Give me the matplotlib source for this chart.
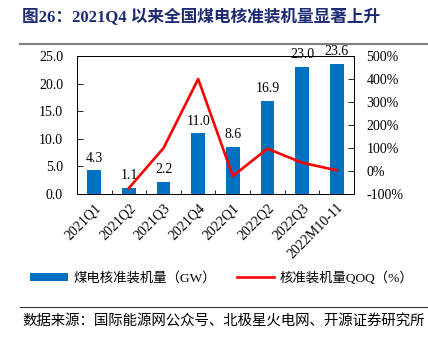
import matplotlib
matplotlib.use("Agg")
import matplotlib.pyplot as plt
from matplotlib.patches import Patch
from matplotlib.lines import Line2D
from matplotlib.ticker import FuncFormatter, FixedLocator

plt.rcParams['font.family'] = ['Liberation Serif', 'Noto Sans CJK SC', 'DejaVu Sans']

# Data
categories = ["2021Q1", "2021Q2", "2021Q3", "2021Q4", "2022Q1", "2022Q2", "2022Q3", "2022M10-11"]
capacity_gw = [4.3, 1.1, 2.2, 11.0, 8.6, 16.9, 23.0, 23.6]
qoq_pct = [None, -74, 100, 400, -22, 97, 36, 3]

title_text = "图26：2021Q4 以来全国煤电核准装机量显著上升"
legend_bar = "煤电核准装机量（GW）"
legend_line = "核准装机量QOQ（%）"
source_text = "数据来源：国际能源网公众号、北极星火电网、开源证券研究所"

W, H = 428, 337
fig = plt.figure(figsize=(W / 100, H / 100), dpi=100)

def box(x0, y0, x1, y1):
    return [x0 / W, 1 - y1 / H, (x1 - x0) / W, (y1 - y0) / H]

ax = fig.add_axes(box(77, 56, 354, 194))
ax2 = ax.twinx()

blue = "#0070C0"
x = list(range(len(categories)))
bars = ax.bar(x, capacity_gw, width=0.4, color=blue, zorder=2)
for xi, v in zip(x, capacity_gw):
    ax.annotate(f"{v:.1f}", (xi, v), xytext=(0, 4), textcoords="offset points",
                ha="center", va="bottom", fontsize=10, clip_on=False)

lx = [xi for xi, v in zip(x, qoq_pct) if v is not None]
ly = [v for v in qoq_pct if v is not None]
ax2.plot(lx, ly, color="#FF0000", lw=1.9, zorder=3)

ax.set_xlim(-0.5, len(categories) - 0.5)
ax.set_ylim(0, 25)
ax2.set_ylim(-100, 500)
ax.set_yticks([0, 5, 10, 15, 20, 25])
ax.yaxis.set_major_formatter(FuncFormatter(lambda v, p: f"{v:.1f}"))
ax2.set_yticks(list(range(-100, 501, 100)))
ax2.yaxis.set_major_formatter(FuncFormatter(lambda v, p: f"{int(v)}%"))

ax.set_xticks(x)
ax.set_xticklabels(categories, rotation=45, ha="right", rotation_mode="anchor", fontsize=10)
ax.tick_params(axis="x", which="major", length=0, pad=5)
ax.xaxis.set_minor_locator(FixedLocator([i + 0.5 for i in range(-1, len(categories))]))
ax.tick_params(axis="x", which="minor", direction="in", length=3, width=0.6)
ax.tick_params(axis="y", direction="in", length=4, width=0.6, labelsize=10, pad=10)
ax2.tick_params(axis="y", direction="in", length=4, width=0.6, labelsize=10, pad=9)

for a in (ax, ax2):
    for s in a.spines.values():
        s.set_linewidth(0.7)
        s.set_color("black")

# Title and rules
fig.text(22 / W, 1 - 18 / H, title_text, fontsize=12, fontweight="bold",
         color="#1B2A73", ha="left", va="center")
fig.add_artist(Line2D([20 / W, 1], [1 - 44 / H] * 2, color="#808080", lw=1.5))
fig.add_artist(Line2D([20 / W, 1], [1 - 307 / H] * 2, color="#333333", lw=0.8))
fig.text(22 / W, 1 - 321 / H, source_text, fontsize=10.4, ha="left", va="center",
         family=['Noto Sans CJK SC', 'DejaVu Sans'])

handles = [Patch(facecolor=blue, edgecolor="none"),
           Line2D([], [], color="#FF0000", lw=1.9)]
fig.legend(handles, [legend_bar, legend_line], loc="center",
           bbox_to_anchor=(222 / W, 1 - 278 / H), ncol=2, frameon=False,
           fontsize=9.6, handlelength=2.8, handleheight=0.6, columnspacing=1.6,
           handletextpad=0.4)

fig.savefig("out.png", dpi=100)
